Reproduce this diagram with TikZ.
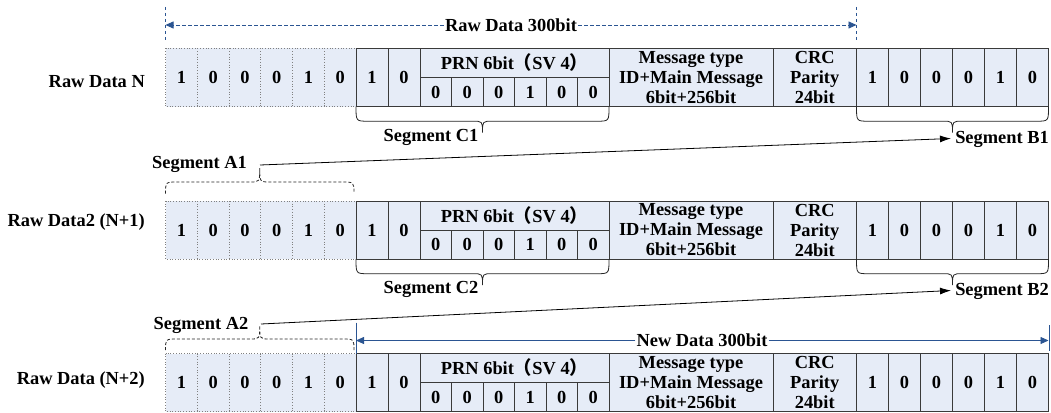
\documentclass[tikz,border=0pt]{standalone}
\usepackage{fontspec}
\setmainfont{Liberation Serif}
\newfontfamily\cjk{Noto Sans CJK SC}
\usetikzlibrary{arrows.meta}
\definecolor{cellfill}{HTML}{E6ECF7}
\definecolor{darkblue}{HTML}{2B5592}
\definecolor{cellgray}{HTML}{3A3A3A}
\tikzset{
  txt/.style={font=\fontsize{18.4}{20}\selectfont\bfseries, inner sep=0pt, align=center},
  cellline/.style={draw=cellgray, line width=0.8pt},
  dotline/.style={draw=gray, line width=0.7pt, dotted},
  bracesolid/.style={draw=black!85, line width=0.8pt},
  bracedash/.style={draw=black!85, line width=0.8pt, dash pattern=on 3pt off 2pt},
  bluedash/.style={draw=darkblue, line width=0.8pt, dash pattern=on 3.5pt off 2.5pt},
  bluesolid/.style={draw=darkblue, line width=0.8pt},
  segarrow/.style={draw=black, line width=0.8pt, -{Latex[length=11pt,width=7pt]}},
  bluetip/.style={-{Triangle[length=8pt,width=7pt]}},
}
% #1 name, #2 top y, #3 label, #4 label offset
\newcommand\datarow[4]{%
  \begin{scope}[shift={(0,#2)}]
    \fill[cellfill] (165.5,0) rectangle (1048.5,58);
    \draw[dotline] (165.5,0) rectangle (356,58);
    \foreach \x in {197.25,229,260.75,292.5,324.25} \draw[dotline] (\x,0) -- (\x,58);
    \draw[cellline] (356,0) rectangle (1048.5,58);
    \foreach \x in {388,420,609,773,856.5,888.5,920.5,952.5,984.5,1016.5} \draw[cellline] (\x,0) -- (\x,58);
    \draw[cellline] (420,29) -- (609,29);
    \foreach \x in {451.5,483,514.5,546,577.5} \draw[cellline] (\x,29) -- (\x,58);
    \node[txt, anchor=east] (#1-lab) at (145,#4) {#3};
    \foreach \v [count=\i] in {1,0,0,0,1,0}
      \node[txt] (#1-L\i) at ({165.5+31.75*(\i-0.5)},29) {\v};
    \node[txt] (#1-S1) at (372,29) {1};
    \node[txt] (#1-S2) at (404,29) {0};
    \node[txt] (#1-prn) at (514.5,14.5) {PRN 6bit{\cjk （}SV 4{\cjk ）}};
    \foreach \v [count=\i] in {0,0,0,1,0,0}
      \node[txt] (#1-P\i) at ({420+31.5*(\i-0.5)},43.5) {\v};
    \node[txt] (#1-msg) at (691,29) {Message type\\ID+Main Message\\6bit+256bit};
    \node[txt] (#1-crc) at (814.75,29) {CRC\\Parity\\24bit};
    \foreach \v [count=\i] in {1,0,0,0,1,0}
      \node[txt] (#1-R\i) at ({856.5+32*(\i-0.5)},29) {\v};
  \end{scope}%
}
% #1 style, #2 left x, #3 right x, #4 end y, #5 flat y, #6 tip y
\newcommand\bracedraw[6]{%
  \draw[#1] (#2,#4) .. controls (#2,#5) .. ({#2+12},#5) -- ({(#2+#3)/2-10},#5)
    .. controls ({(#2+#3)/2},#5) .. ({(#2+#3)/2},#6)
    .. controls ({(#2+#3)/2},#5) .. ({(#2+#3)/2+10},#5) -- ({#3-12},#5)
    .. controls (#3,#5) .. (#3,#4);%
}
\begin{document}
\begin{tikzpicture}[x=1pt,y=-1pt]
\useasboundingbox (0,0) rectangle (1051,412);
\fill[white] (0,0) rectangle (1051,412);

% top dimension line
\coordinate (rawL) at (165.5,25);
\coordinate (rawR) at (856.5,25);
\draw[bluedash] (165.5,7) -- (165.5,42);
\draw[bluedash] (856.5,7) -- (856.5,42);
\node[txt, fill=white, inner xsep=1pt] (rawtxt) at (511,25) {Raw Data 300bit};
\draw[bluedash, bluetip] (rawtxt.west) -- (rawL);
\draw[bluedash, bluetip] (rawtxt.east) -- (rawR);

% rows
\datarow{r1}{48.5}{Raw Data N}{33}
\datarow{r2}{201}{Raw Data2 (N+1)}{21}
\datarow{r3}{353.5}{Raw Data (N+2)}{27}

% braces row 1
\bracedraw{bracesolid}{356}{609}{106.5}{121.2}{132.5}
\bracedraw{bracesolid}{856.5}{1048.5}{106.5}{121.2}{132.5}
\node[txt] (C1) at (431,137) {Segment C1};
\node[txt] (B1) at (1002,139) {Segment B1};
\coordinate (B1tip) at (951,138.5);

% A1
\bracedraw{bracedash}{165.5}{354}{193.5}{182}{168}
\node[txt] (A1) at (199.5,164) {Segment A1};
\coordinate (A1tip) at (260,165);
\draw[segarrow] (A1tip) -- (B1tip);

% braces row 2
\bracedraw{bracesolid}{356}{609}{259}{273.7}{285}
\bracedraw{bracesolid}{856.5}{1048.5}{259}{273.7}{285}
\node[txt] (C2) at (431,289) {Segment C2};
\node[txt] (B2) at (1002,291.5) {Segment B2};
\coordinate (B2tip) at (951,290.5);

% A2
\bracedraw{bracedash}{165.5}{354}{350}{339}{325.5}
\node[txt] (A2) at (201,325.5) {Segment A2};
\coordinate (A2tip) at (261,324);
\draw[segarrow] (A2tip) -- (B2tip);

% new data dimension line
\coordinate (newL) at (356,340.5);
\coordinate (newR) at (1048.5,340.5);
\draw[bluesolid] (356,322.5) -- (356,353.5);
\draw[bluesolid] (1049,325) -- (1049,351);
\node[txt, fill=white, inner xsep=1pt] (newtxt) at (702,340.5) {New Data 300bit};
\draw[bluesolid, bluetip] (newtxt.west) -- (newL);
\draw[bluesolid, bluetip] (newtxt.east) -- (newR);
\end{tikzpicture}
\end{document}
